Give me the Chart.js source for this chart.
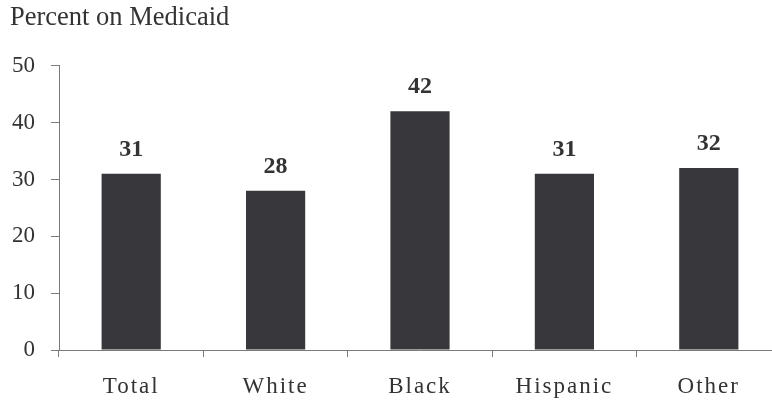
<!DOCTYPE html>
<html lang="en">
<head>
    <meta charset="UTF-8">
    <title>Percent on Medicaid</title>
    <style>
        body {
            margin: 0;
            background-color: #ffffff;
        }

        #frame {
            width: 772px;
            height: 400px;
            overflow: hidden;
        }

        /* the plot runs a little past the right edge of the window */
        #chart-box {
            position: relative;
            width: 800px;
            height: 400px;
        }
    </style>
</head>
<body>
    <div id="frame">
        <div id="chart-box">
            <canvas id="medicaid-chart"></canvas>
        </div>
    </div>

    <script src="https://cdn.jsdelivr.net/npm/chart.js"></script>
    <script>
        const groups = ['Total', 'White', 'Black', 'Hispanic', 'Other'];
        const percentOnMedicaid = [31, 28, 42, 31, 32];
        const yTicks = [0, 10, 20, 30, 40, 50];

        const textColor = '#333333';
        const axisColor = '#7a7a7a';
        const serif = "'Liberation Serif', 'Times New Roman', serif";

        // bold numbers above each bar, then letter spacing for the x labels
        const valueLabels = {
            id: 'valueLabels',
            afterDatasetsDraw(chart) {
                const ctx = chart.ctx;
                const meta = chart.getDatasetMeta(0);
                ctx.save();
                ctx.font = 'bold 24px ' + serif;
                ctx.fillStyle = textColor;
                ctx.textAlign = 'center';
                ctx.textBaseline = 'alphabetic';
                meta.data.forEach((bar, i) => {
                    ctx.fillText(chart.data.datasets[0].data[i], bar.x, bar.y - 18);
                });
                ctx.restore();
                ctx.letterSpacing = '2px';
            },
            afterDraw(chart) {
                chart.ctx.letterSpacing = '0px';
            }
        };

        new Chart(document.getElementById('medicaid-chart'), {
            type: 'bar',
            data: {
                labels: groups,
                datasets: [{
                    data: percentOnMedicaid,
                    backgroundColor: '#38373c',
                    borderWidth: 0,
                    barPercentage: 0.41,
                    categoryPercentage: 1
                }]
            },
            options: {
                responsive: true,
                maintainAspectRatio: false,
                animation: false,
                layout: {
                    padding: { left: 10, right: 19, top: 0, bottom: 0 }
                },
                plugins: {
                    legend: { display: false },
                    tooltip: { enabled: false },
                    title: {
                        display: true,
                        text: 'Percent on Medicaid',
                        align: 'start',
                        color: textColor,
                        font: { family: serif, size: 26.5, weight: 'normal' },
                        padding: { top: 2, bottom: 32 }
                    }
                },
                scales: {
                    x: {
                        grid: {
                            offset: true,
                            drawOnChartArea: false,
                            drawTicks: true,
                            tickLength: 7,
                            color: axisColor
                        },
                        border: { display: true, color: axisColor, width: 1 },
                        ticks: {
                            z: 1,
                            color: textColor,
                            padding: 16,
                            font: { family: serif, size: 23 }
                        },
                        afterFit(scale) {
                            scale.height = 50;
                        }
                    },
                    y: {
                        min: 0,
                        max: 50,
                        grid: {
                            drawOnChartArea: false,
                            drawTicks: true,
                            tickLength: 8,
                            color: axisColor
                        },
                        border: { display: true, color: axisColor, width: 1 },
                        afterBuildTicks(scale) {
                            scale.ticks = yTicks.map(v => ({ value: v }));
                        },
                        ticks: {
                            color: textColor,
                            padding: 16,
                            font: { family: serif, size: 23 }
                        },
                        afterFit(scale) {
                            scale.width = 49;
                        }
                    }
                }
            },
            plugins: [valueLabels]
        });
    </script>
</body>
</html>
